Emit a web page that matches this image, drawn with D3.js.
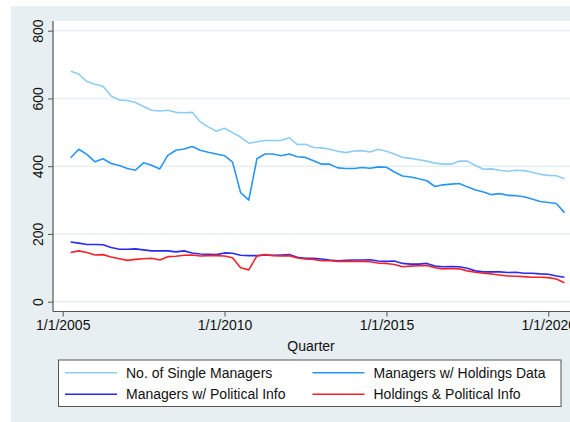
<html><head>
<meta charset="UTF-8">
<title>Managers by Quarter</title>
<script src="https://d3js.org/d3.v7.min.js"></script>
<style>
    body { margin: 0; background: #fff; font-family: "Liberation Sans", Arial, sans-serif; }
    text { font-family: "Liberation Sans", Arial, sans-serif; fill: #111; }
    .grid line { stroke: #e6eff2; stroke-width: 1.5px; }
    .series { fill: none; stroke-width: 1.6px; stroke-linejoin: round; }
</style>
</head>
<body>
<div id="chart"></div>
<script>
// quarterly observations, 2005Q2 .. 2020Q3
const firstQuarter = "2005-04-01";
const lastQuarter = "2020-07-01";

const singleManagers = [680, 672, 650, 642, 636, 607, 595, 594, 588, 576, 565, 563, 565, 559, 558, 559,
    531, 516, 503, 512, 499, 486, 468, 472, 476, 476, 476, 484, 464, 465, 455, 454, 450, 444, 440, 445,
    446, 442, 450, 444, 436, 426, 423, 419, 415, 409, 406, 406, 415, 415, 402, 391, 392, 388, 385, 388,
    387, 382, 376, 373, 372, 363];
const holdingsData = [425, 450, 435, 413, 422, 408, 402, 393, 388, 410, 403, 392, 432, 447, 451, 458,
    447, 441, 436, 431, 412, 322, 300, 422, 436, 436, 431, 436, 428, 426, 416, 406, 406, 395, 393, 393,
    396, 394, 398, 397, 383, 371, 368, 363, 357, 340, 345, 347, 349, 339, 330, 324, 316, 319, 314, 313,
    310, 303, 296, 293, 290, 263];
const politicalInfo = [176, 173, 169, 169, 168, 160, 155, 155, 156, 153, 150, 150, 150, 147, 150, 144,
    141, 140, 139, 144, 143, 137, 136, 136, 138, 137, 138, 139, 131, 128, 128, 126, 123, 121, 122, 123,
    123, 124, 120, 119, 120, 113, 111, 111, 113, 105, 103, 104, 103, 99, 91, 88, 88, 88, 86, 87,
    84, 84, 82, 81, 76, 72];
const holdingsPolitical = [145, 150, 145, 138, 139, 132, 127, 122, 125, 127, 128, 123, 133, 134, 137, 138,
    135, 136, 136, 135, 130, 100, 94, 135, 139, 136, 135, 136, 129, 126, 125, 121, 121, 119, 119, 119,
    119, 118, 114, 113, 110, 103, 105, 106, 107, 100, 97, 98, 97, 91, 87, 84, 82, 79, 76, 75,
    74, 72, 72, 71, 67, 56];

const seriesNames = ["No. of Single Managers", "Managers w/ Holdings Data", "Managers w/ Political Info", "Holdings & Political Info"];
const seriesColors = ["#8dcdf2", "#2696f5", "#2a2af5", "#f5222a"];
const yTicks = [0, 200, 400, 600, 800];
const xTicks = ["2005-01-01", "2010-01-01", "2015-01-01", "2020-01-01"];

const W = 570, H = 422;
const svg = d3.select("#chart").append("svg").attr("width", W).attr("height", H);

// outer graph region
svg.append("rect").attr("x", 11).attr("y", 6).attr("width", W - 11).attr("height", H - 6).attr("fill", "#e7eff2");

const plot = { left: 53, top: 21, right: 570, bottom: 311.5 };
svg.append("rect").attr("x", plot.left).attr("y", plot.top)
    .attr("width", plot.right - plot.left).attr("height", plot.bottom - plot.top).attr("fill", "#fff");

const parse = d3.utcParse("%Y-%m-%d");
const quarters = d3.utcMonth.every(3).range(parse(firstQuarter), d3.utcDay.offset(parse(lastQuarter), 1));

const x = d3.scaleUtc().domain([parse("2005-01-01"), parse("2020-01-01")]).range([62.7, 548.3]);
const y = d3.scaleLinear().domain([0, 800]).range([301.7, 30.7]);

// grid
svg.append("g").attr("class", "grid").selectAll("line").data(yTicks).join("line")
    .attr("x1", plot.left).attr("x2", plot.right)
    .attr("y1", d => y(d)).attr("y2", d => y(d));

// series
const all = [singleManagers, holdingsData, politicalInfo, holdingsPolitical];
const line = d3.line().x((d, i) => x(quarters[i])).y(d => y(d));
svg.append("g").selectAll("path").data(all).join("path")
    .attr("class", "series")
    .attr("stroke", (d, i) => seriesColors[i])
    .attr("d", line);

// y axis
const yAxis = svg.append("g").attr("transform", `translate(${plot.left},0)`)
    .call(d3.axisLeft(y).tickValues(yTicks).tickSize(5).tickFormat(d3.format("d")));
yAxis.select(".domain").attr("d", `M0,${plot.top}V${plot.bottom}`).attr("stroke", "#555").attr("stroke-width", 1.2);
yAxis.selectAll(".tick line").attr("stroke", "#555");
yAxis.selectAll(".tick text")
    .attr("x", null).attr("dy", null)
    .attr("transform", "translate(-10.5,0) rotate(-90)")
    .attr("text-anchor", "middle")
    .style("font-size", "14px");

// x axis
const xAxis = svg.append("g").attr("transform", `translate(0,${plot.bottom})`)
    .call(d3.axisBottom(x).tickValues(xTicks.map(parse)).tickSize(5).tickFormat(d3.utcFormat("%-m/%-d/%Y")));
xAxis.select(".domain").attr("d", `M${plot.left},0H${plot.right}`).attr("stroke", "#555").attr("stroke-width", 1.2);
xAxis.selectAll(".tick line").attr("stroke", "#555");
xAxis.selectAll(".tick text").attr("y", 9).style("font-size", "14px");

svg.append("text").attr("x", 311).attr("y", 351)
    .attr("text-anchor", "middle").style("font-size", "14px").text("Quarter");

// legend
const legend = svg.append("g");
legend.append("rect").attr("x", 58.5).attr("y", 360).attr("width", 502.5).attr("height", 46.5)
    .attr("fill", "#fff").attr("stroke", "#555").attr("stroke-width", 1);
const cols = [65, 312.5], rows = [372.7, 394.3];
const item = legend.selectAll("g").data(seriesNames).join("g")
    .attr("transform", (d, i) => `translate(${cols[i % 2]},${rows[Math.floor(i / 2)]})`);
item.append("line").attr("x1", 0).attr("x2", 52).attr("stroke", (d, i) => seriesColors[i]).attr("stroke-width", 1.6);
item.append("text").attr("x", 61).attr("dy", "0.35em").style("font-size", "14px").text(d => d);
</script>
</body>
</html>
